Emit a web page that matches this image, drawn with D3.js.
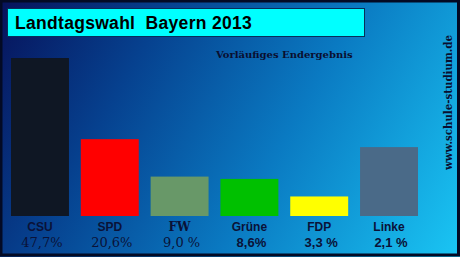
<!DOCTYPE html>
<html>
<head>
<meta charset="utf-8">
<script src="https://cdn.jsdelivr.net/npm/d3@7"></script>
<style>
  body { margin: 0; background: #ffffff; }
  svg { display: block; }
</style>
</head>
<body>
<svg id="chart"></svg>
<script>
var parties = ["CSU", "SPD", "FW", "Grüne", "FDP", "Linke"];
var barValues = [47.7, 23.2, 11.9, 11.2, 5.9, 20.8];
var resultLabels = ["47,7%", "20,6%", "9,0 %", "8,6%", "3,3 %", "2,1 %"];
var barColors = ["#0f1724", "#ff0000", "#689868", "#00c000", "#ffff00", "#4a6a88"];
var nameSerif = [false, false, true, false, false, false];
var resultSerif = [true, true, true, false, false, false];

const width = 460,
  height = 257,
  baseline = 216;

var svg = d3.select("#chart").attr("width", width).attr("height", height);

var defs = svg.append("defs");
var bg = defs
  .append("linearGradient")
  .attr("id", "bg-grad")
  .attr("gradientUnits", "userSpaceOnUse")
  .attr("x1", 0)
  .attr("y1", 0)
  .attr("x2", width)
  .attr("y2", height);
bg.append("stop").attr("offset", "0%").attr("stop-color", "#07125a");
bg.append("stop").attr("offset", "28%").attr("stop-color", "#06418f");
bg.append("stop").attr("offset", "60%").attr("stop-color", "#0a7ac2");
bg.append("stop").attr("offset", "100%").attr("stop-color", "#1ac6f4");

// background + frame
svg
  .append("rect")
  .attr("x", 0)
  .attr("y", 0)
  .attr("width", width)
  .attr("height", height)
  .attr("fill", "url(#bg-grad)");

svg
  .append("rect")
  .attr("x", 1)
  .attr("y", 1)
  .attr("width", width - 2.5)
  .attr("height", height - 3)
  .attr("fill", "none")
  .attr("stroke", "#030a24")
  .attr("stroke-width", 3);

// title box
svg
  .append("rect")
  .attr("x", 7.5)
  .attr("y", 8.5)
  .attr("width", 357)
  .attr("height", 28)
  .attr("fill", "#00ffff")
  .attr("stroke", "#06305a")
  .attr("stroke-width", 1);

svg
  .append("text")
  .attr("x", 15)
  .attr("y", 28.5)
  .attr("font-family", "Liberation Sans, Arial, sans-serif")
  .attr("font-weight", "bold")
  .attr("font-size", "17.5px")
  .attr("letter-spacing", "0.3px")
  .attr("fill", "#000")
  .attr("xml:space", "preserve")
  .text("Landtagswahl  Bayern 2013");

svg
  .append("text")
  .attr("x", 216)
  .attr("y", 58)
  .attr("font-family", "DejaVu Serif, serif")
  .attr("font-weight", "bold")
  .attr("font-size", "10px")
  .attr("fill", "#0a0f30")
  .text("Vorläufiges Endergebnis");

svg
  .append("text")
  .attr("transform", "translate(452,170) rotate(-90)")
  .attr("font-family", "DejaVu Serif, serif")
  .attr("font-weight", "bold")
  .attr("font-size", "10.5px")
  .attr("textLength", 135)
  .attr("lengthAdjust", "spacingAndGlyphs")
  .attr("fill", "#0a0f30")
  .text("www.schule-studium.de");

// scales
var x = d3
  .scaleBand()
  .domain(parties)
  .range([11, 418])
  .paddingInner(0.17)
  .paddingOuter(0);

var y = d3.scaleLinear().domain([0, 50]).range([baseline, baseline - 165.6]);

svg
  .append("g")
  .attr("class", "bars")
  .selectAll("rect")
  .data(parties)
  .enter()
  .append("rect")
  .attr("x", function (d) {
    return x(d);
  })
  .attr("y", function (d, i) {
    return y(barValues[i]);
  })
  .attr("width", x.bandwidth())
  .attr("height", function (d, i) {
    return y(0) - y(barValues[i]);
  })
  .attr("fill", function (d, i) {
    return barColors[i];
  });

var labels = svg.append("g").attr("class", "labels");

labels
  .selectAll(".party-name")
  .data(parties)
  .enter()
  .append("text")
  .attr("class", "party-name")
  .attr("text-anchor", "middle")
  .attr("x", function (d) {
    return x(d) + x.bandwidth() / 2;
  })
  .attr("y", 231)
  .attr("font-family", function (d, i) {
    return nameSerif[i] ? "DejaVu Serif, serif" : "Liberation Sans, Arial, sans-serif";
  })
  .attr("font-weight", "bold")
  .attr("font-size", "12px")
  .attr("fill", "#0a1238")
  .text(function (d) {
    return d;
  });

labels
  .selectAll(".result")
  .data(resultLabels)
  .enter()
  .append("text")
  .attr("class", "result")
  .attr("text-anchor", "middle")
  .attr("x", function (d, i) {
    return x(parties[i]) + x.bandwidth() / 2 + 2;
  })
  .attr("y", 247)
  .attr("font-family", function (d, i) {
    return resultSerif[i] ? "DejaVu Serif, serif" : "Liberation Sans, Arial, sans-serif";
  })
  .attr("font-weight", function (d, i) {
    return resultSerif[i] ? "normal" : "bold";
  })
  .attr("font-size", "13px")
  .attr("fill", "#0a1238")
  .text(function (d) {
    return d;
  });
</script>
</body>
</html>
